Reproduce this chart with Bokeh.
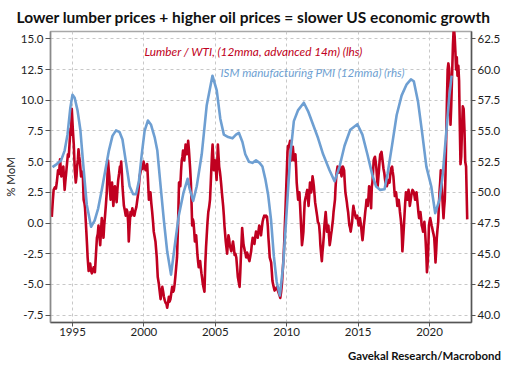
from bokeh.plotting import figure
from bokeh.models import (Range1d, LinearAxis, FixedTicker, PrintfTickFormatter, Label)
from bokeh.embed import file_html
from bokeh.resources import INLINE

# ---------------- data ----------------
red_year = [1993.55, 1993.62, 1993.68, 1993.76, 1993.84, 1993.9, 1993.99, 1994.06, 1994.13, 1994.22,
            1994.29, 1994.36, 1994.45, 1994.5, 1994.56, 1994.62, 1994.68, 1994.74, 1994.79, 1994.86,
            1994.9, 1994.95, 1995.02, 1995.09, 1995.16, 1995.23, 1995.28, 1995.32, 1995.38, 1995.42,
            1995.47, 1995.51, 1995.6, 1995.66, 1995.72, 1995.78, 1995.84, 1995.88, 1995.97, 1996.02,
            1996.06, 1996.13, 1996.18, 1996.24, 1996.3, 1996.36, 1996.42, 1996.48, 1996.57, 1996.64,
            1996.71, 1996.77, 1996.82, 1996.88, 1996.94, 1997.0, 1997.05, 1997.11, 1997.17, 1997.22,
            1997.28, 1997.34, 1997.4, 1997.45, 1997.49, 1997.54, 1997.58, 1997.63, 1997.67, 1997.72,
            1997.77, 1997.82, 1997.86, 1997.92, 1997.97, 1998.03, 1998.09, 1998.15, 1998.2, 1998.26,
            1998.32, 1998.37, 1998.41, 1998.46, 1998.5, 1998.55, 1998.6, 1998.67, 1998.73, 1998.79,
            1998.85, 1998.9, 1998.94, 1999.0, 1999.06, 1999.12, 1999.19, 1999.26, 1999.33, 1999.4,
            1999.47, 1999.54, 1999.61, 1999.66, 1999.7, 1999.77, 1999.84, 1999.91, 1999.98, 2000.05,
            2000.12, 2000.18, 2000.23, 2000.29, 2000.35, 2000.41, 2000.46, 2000.52, 2000.58, 2000.64,
            2000.69, 2000.75, 2000.81, 2000.86, 2000.9, 2000.97, 2001.04, 2001.1, 2001.17, 2001.23,
            2001.29, 2001.35, 2001.4, 2001.46, 2001.52, 2001.58, 2001.63, 2001.69, 2001.75, 2001.8,
            2001.86, 2001.92, 2001.98, 2002.04, 2002.09, 2002.15, 2002.2, 2002.26, 2002.32, 2002.39,
            2002.46, 2002.5, 2002.55, 2002.6, 2002.65, 2002.7, 2002.74, 2002.78, 2002.83, 2002.88,
            2002.92, 2002.97, 2003.01, 2003.06, 2003.1, 2003.15, 2003.2, 2003.24, 2003.29, 2003.34,
            2003.38, 2003.43, 2003.47, 2003.52, 2003.57, 2003.62, 2003.66, 2003.7, 2003.75, 2003.8,
            2003.84, 2003.89, 2003.94, 2003.98, 2004.03, 2004.08, 2004.12, 2004.17, 2004.24, 2004.3,
            2004.35, 2004.4, 2004.45, 2004.51, 2004.57, 2004.63, 2004.68, 2004.72, 2004.77, 2004.81,
            2004.86, 2004.9, 2004.95, 2004.99, 2005.04, 2005.09, 2005.14, 2005.18, 2005.23, 2005.27,
            2005.32, 2005.36, 2005.41, 2005.46, 2005.5, 2005.55, 2005.6, 2005.64, 2005.69, 2005.73,
            2005.78, 2005.83, 2005.88, 2005.92, 2005.97, 2006.01, 2006.06, 2006.12, 2006.18, 2006.24,
            2006.3, 2006.35, 2006.41, 2006.47, 2006.52, 2006.58, 2006.64, 2006.7, 2006.75, 2006.79,
            2006.84, 2006.88, 2006.93, 2006.98, 2007.02, 2007.07, 2007.12, 2007.16, 2007.22, 2007.28,
            2007.33, 2007.39, 2007.45, 2007.51, 2007.56, 2007.62, 2007.68, 2007.74, 2007.8, 2007.85,
            2007.91, 2007.97, 2008.03, 2008.08, 2008.14, 2008.2, 2008.26, 2008.31, 2008.37, 2008.43,
            2008.49, 2008.55, 2008.62, 2008.68, 2008.72, 2008.77, 2008.81, 2008.86, 2008.91, 2008.96,
            2009.0, 2009.05, 2009.09, 2009.15, 2009.21, 2009.27, 2009.32, 2009.38, 2009.44, 2009.5,
            2009.55, 2009.61, 2009.67, 2009.72, 2009.78, 2009.83, 2009.87, 2009.92, 2009.97, 2010.02,
            2010.06, 2010.1, 2010.15, 2010.2, 2010.24, 2010.29, 2010.34, 2010.38, 2010.43, 2010.48,
            2010.52, 2010.57, 2010.61, 2010.66, 2010.7, 2010.75, 2010.8, 2010.85, 2010.89, 2010.94,
            2010.98, 2011.03, 2011.07, 2011.12, 2011.17, 2011.21, 2011.26, 2011.31, 2011.35, 2011.4,
            2011.44, 2011.49, 2011.53, 2011.58, 2011.63, 2011.67, 2011.72, 2011.77, 2011.81, 2011.86,
            2011.9, 2011.95, 2011.99, 2012.04, 2012.09, 2012.14, 2012.18, 2012.23, 2012.27, 2012.32,
            2012.36, 2012.41, 2012.46, 2012.5, 2012.55, 2012.6, 2012.64, 2012.69, 2012.73, 2012.78,
            2012.82, 2012.87, 2012.92, 2012.96, 2013.01, 2013.06, 2013.1, 2013.15, 2013.19, 2013.24,
            2013.28, 2013.33, 2013.38, 2013.42, 2013.47, 2013.51, 2013.56, 2013.6, 2013.65, 2013.7,
            2013.75, 2013.79, 2013.84, 2013.88, 2013.93, 2013.97, 2014.02, 2014.06, 2014.11, 2014.16,
            2014.21, 2014.25, 2014.3, 2014.34, 2014.39, 2014.44, 2014.48, 2014.53, 2014.58, 2014.62,
            2014.67, 2014.71, 2014.76, 2014.8, 2014.85, 2014.9, 2014.94, 2014.99, 2015.04, 2015.08,
            2015.13, 2015.18, 2015.22, 2015.27, 2015.31, 2015.36, 2015.4, 2015.45, 2015.5, 2015.55,
            2015.59, 2015.64, 2015.68, 2015.73, 2015.77, 2015.82, 2015.87, 2015.91, 2015.96, 2016.0,
            2016.05, 2016.09, 2016.14, 2016.18, 2016.23, 2016.27, 2016.32, 2016.37, 2016.41, 2016.46,
            2016.5, 2016.55, 2016.6, 2016.64, 2016.69, 2016.74, 2016.78, 2016.83, 2016.88, 2016.92,
            2016.97, 2017.01, 2017.06, 2017.1, 2017.15, 2017.2, 2017.24, 2017.29, 2017.33, 2017.38,
            2017.42, 2017.47, 2017.52, 2017.57, 2017.61, 2017.66, 2017.7, 2017.75, 2017.8, 2017.84,
            2017.89, 2017.93, 2017.98, 2018.03, 2018.07, 2018.1, 2018.13, 2018.16, 2018.21, 2018.26,
            2018.3, 2018.35, 2018.4, 2018.44, 2018.49, 2018.53, 2018.58, 2018.62, 2018.67, 2018.72,
            2018.76, 2018.81, 2018.86, 2018.9, 2018.95, 2018.99, 2019.04, 2019.09, 2019.13, 2019.18,
            2019.22, 2019.27, 2019.31, 2019.36, 2019.41, 2019.45, 2019.5, 2019.55, 2019.6, 2019.64,
            2019.69, 2019.73, 2019.78, 2019.82, 2019.86, 2019.89, 2019.93, 2019.96, 2020.0, 2020.05,
            2020.1, 2020.15, 2020.19, 2020.24, 2020.28, 2020.33, 2020.38, 2020.42, 2020.47, 2020.51,
            2020.56, 2020.61, 2020.65, 2020.7, 2020.75, 2020.79, 2020.84, 2020.88, 2020.93, 2020.98,
            2021.02, 2021.07, 2021.12, 2021.17, 2021.22, 2021.27, 2021.32, 2021.37, 2021.42, 2021.47,
            2021.52, 2021.58, 2021.64, 2021.7, 2021.76, 2021.81, 2021.86, 2021.91, 2021.96, 2022.02,
            2022.07, 2022.12, 2022.17, 2022.22, 2022.27, 2022.33, 2022.39, 2022.45, 2022.5, 2022.56,
            2022.64]

red_value = [0.5, 1.8, 2.7, 2.9, 2.8, 3.3, 4.3, 4.0, 5.2, 3.8,
             4.1, 4.6, 2.7, 3.4, 4.1, 4.9, 5.6, 5.4, 6.4, 7.7,
             7.2, 9.3, 7.7, 6.4, 4.3, 3.3, 3.8, 4.6, 5.2, 6.0,
             5.4, 5.1, 3.8, 4.2, 4.1, 1.9, 1.6, 1.2, -0.7, -1.8,
             -2.8, -3.9, -3.6, -3.3, -3.9, -4.1, -3.9, -3.6, -4.0, -2.6,
             -1.2, -0.9, -0.2, -1.0, -1.8, -0.6, 0.4, -0.3, -1.2, -0.2,
             0.6, 1.5, 2.5, 3.9, 5.1, 4.3, 3.8, 2.5, 1.9, 2.6,
             3.3, 2.2, 1.4, 2.4, 3.0, 2.4, 1.7, 2.8, 3.5, 4.0,
             4.6, 4.3, 5.0, 4.0, 3.0, 2.2, 1.4, 1.0, 0.6, 1.1,
             0.9, 0.0, -1.5, -0.2, 0.9, 0.6, 1.2, 0.8, 0.6, 1.0,
             1.3, 1.9, 2.5, 3.2, 3.8, 4.2, 4.6, 4.4, 5.0, 4.6,
             4.3, 4.5, 4.8, 3.4, 1.9, 2.2, 2.5, 1.6, 0.9, 0.1,
             -0.7, -1.1, -1.5, -2.2, -2.8, -4.4, -4.9, -5.5, -6.2, -5.6,
             -5.2, -5.6, -6.0, -6.3, -6.5, -6.6, -6.9, -6.5, -6.0, -6.4,
             -6.2, -5.7, -5.2, -5.6, -5.5, -5.0, -4.4, -3.6, -2.8, -0.2,
             3.3, 3.0, 3.0, 4.2, 5.1, 5.4, 5.9, 5.3, 5.1, 5.8,
             6.4, 6.0, 5.6, 6.0, 6.7, 6.0, 5.1, 4.4, 3.3, 1.5,
             -0.2, 0.3, 0.1, -0.6, -1.5, -1.2, -1.0, -1.7, -2.6, -3.2,
             -3.6, -3.3, -3.1, -3.6, -4.1, -4.5, -4.9, -5.2, -5.6, -3.3,
             -2.0, -1.0, 0.0, 0.9, 1.3, 1.9, 3.2, 4.3, 5.6, 6.4,
             5.3, 4.3, 4.8, 5.1, 4.4, 3.5, 5.0, 6.4, 5.4, 4.6,
             4.2, 3.8, 3.2, 2.5, 2.0, 1.4, 0.6, -0.2, -0.9, -1.5,
             -2.0, -2.5, -1.6, -1.0, -1.3, -1.8, -2.0, -2.3, -1.9, -1.5,
             -2.0, -2.6, -2.5, -2.8, -3.5, -4.4, -4.8, -5.2, -4.0, -2.8,
             -1.5, -0.4, -1.1, -1.8, -2.0, -2.3, -2.5, -2.8, -2.4, -2.6,
             -2.9, -3.1, -2.7, -2.3, -1.7, -1.2, -1.5, -1.7, -1.1, -0.7,
             -0.9, -1.2, -0.6, -0.2, -0.5, -1.0, -0.4, 0.1, 0.4, 0.6,
             0.5, 0.6, 0.5, -0.3, -1.2, -2.0, -2.8, -3.0, -3.2, -4.0,
             -4.7, -5.0, -5.2, -5.5, -5.4, -5.3, -5.2, -5.5, -5.7, -5.9,
             -6.1, -5.6, -4.9, -3.9, -2.8, -1.5, -0.2, 1.3, 3.0, 4.6,
             5.9, 6.3, 6.2, 6.5, 6.7, 5.8, 5.1, 5.6, 6.2, 5.5,
             5.1, 5.3, 5.6, 4.5, 3.3, 2.6, 1.9, 2.2, 2.5, 1.4,
             0.4, -0.8, -1.8, -1.3, -0.7, 0.5, 1.7, 2.0, 2.2, 2.5,
             2.7, 2.0, 1.4, 2.3, 3.3, 2.9, 2.5, 3.2, 3.8, 3.4,
             3.0, 2.3, 1.7, 1.3, 0.9, 0.5, 0.1, 0.0, -0.2, -0.9,
             -1.8, -2.5, -3.1, -2.4, -1.8, -1.0, -0.2, 0.4, 0.9, 0.1,
             -0.7, -0.4, -0.2, -1.0, -1.8, -1.4, -1.0, -0.6, -0.2, 0.3,
             0.9, 1.4, 1.9, 2.9, 3.8, 4.2, 4.6, 4.3, 4.1, 4.3,
             4.6, 4.2, 3.8, 4.2, 4.6, 4.5, 4.3, 3.4, 2.5, 2.1,
             1.7, 1.3, 0.9, 0.4, -0.2, -0.4, -0.7, -0.3, 0.1, 0.8,
             1.4, 1.1, 0.9, 0.6, 0.4, 0.5, 0.6, 0.2, -0.2, 0.1,
             0.4, 0.0, -0.4, -1.0, -1.4, -0.8, -0.2, 0.3, 0.9, 1.4,
             1.9, 1.7, 1.4, 2.2, 3.0, 2.7, 2.2, 1.2, 3.0, 3.3,
             4.2, 5.1, 5.3, 5.4, 5.0, 4.6, 3.8, 3.0, 3.6, 4.3,
             5.0, 5.6, 5.7, 5.8, 5.3, 4.8, 4.4, 4.1, 3.6, 3.3,
             3.1, 3.0, 3.2, 3.5, 3.4, 3.3, 3.8, 4.3, 4.5, 4.6,
             4.2, 3.8, 3.0, 2.2, 2.3, 2.5, 2.0, 1.4, 1.7, 1.9,
             1.4, 0.9, 0.4, -0.2, -1.2, -2.3, -1.8, -1.2, -0.2, 0.9,
             1.7, 2.5, 2.2, 1.9, 2.3, 2.7, 2.1, 1.4, 1.8, 2.2,
             2.5, 2.7, 2.6, 2.5, 2.2, 1.9, 2.2, 2.5, 2.0, 1.4,
             0.9, 0.4, 0.6, 0.9, 0.4, -0.2, -0.4, -0.7, -0.3, 0.1,
             -0.7, -1.5, -2.7, -4.0, -3.4, -2.8, -1.5, -0.2, 0.1, 0.4,
             0.1, -0.2, -0.4, -0.7, -0.9, -1.2, -2.2, -3.2, -2.2, -1.2,
             -0.5, 0.1, 1.3, 2.5, 3.4, 4.3, 3.4, 2.5, 1.4, 0.4,
             1.2, 1.9, 4.0, 7.0, 10.0, 12.5, 13.0, 12.6, 11.5, 8.0,
             9.5, 12.0, 14.5, 16.0, 15.2, 14.0, 12.5, 13.5, 12.0, 12.8,
             11.6, 8.0, 4.8, 5.4, 7.5, 9.5, 9.3, 7.5, 5.0, 4.6,
             0.3]

ism_year = [1993.6, 1993.9, 1994.2, 1994.45, 1994.65, 1994.85, 1995.0, 1995.15, 1995.35, 1995.55,
            1995.75, 1996.0, 1996.3, 1996.55, 1996.8, 1997.05, 1997.3, 1997.55, 1997.8, 1998.05,
            1998.3, 1998.5, 1998.75, 1999.0, 1999.25, 1999.45, 1999.65, 1999.85, 2000.05, 2000.28,
            2000.5, 2000.75, 2000.94, 2001.17, 2001.4, 2001.63, 2001.9, 2002.2, 2002.44, 2002.78,
            2003.06, 2003.2, 2003.45, 2003.7, 2004.05, 2004.4, 2004.8, 2005.1, 2005.35, 2005.6,
            2005.9, 2006.2, 2006.45, 2006.65, 2006.9, 2007.1, 2007.35, 2007.6, 2007.85, 2008.1,
            2008.3, 2008.5, 2008.7, 2008.9, 2009.1, 2009.3, 2009.52, 2009.75, 2010.0, 2010.25,
            2010.5, 2010.8, 2011.2, 2011.5, 2011.85, 2012.2, 2012.55, 2013.0, 2013.35, 2013.7,
            2014.05, 2014.45, 2014.95, 2015.3, 2015.65, 2016.0, 2016.25, 2016.55, 2016.85, 2017.06,
            2017.36, 2017.7, 2018.05, 2018.4, 2018.7, 2018.9, 2019.2, 2019.5, 2019.78, 2020.12,
            2020.4, 2020.7, 2020.93, 2021.16, 2021.39, 2021.55]

ism_value = [52.05, 52.3, 52.6, 53.4, 54.7, 56.9, 57.95, 57.7, 56.7, 55.1,
             52.3, 49.0, 47.2, 47.7, 48.7, 50.2, 51.8, 53.4, 54.6, 55.05,
             54.9, 54.3, 52.4, 50.5, 49.85, 49.85, 50.9, 53.1, 55.0, 55.85,
             55.5, 54.5, 53.4, 50.5, 47.7, 45.2, 43.3, 46.0, 48.1, 50.0,
             51.1, 50.3, 49.3, 50.5, 53.1, 57.1, 59.5, 58.3, 56.0, 54.7,
             54.5, 54.4, 54.7, 54.85, 54.1, 53.1, 52.5, 52.4, 52.6, 52.4,
             52.1, 51.1, 49.8, 47.8, 44.8, 42.7, 41.6, 44.0, 48.5, 53.0,
             55.8, 56.7, 57.3, 56.6, 55.5, 54.4, 53.1, 51.8, 50.9, 52.1,
             53.8, 55.1, 55.55, 54.7, 53.1, 51.4, 50.5, 50.2, 50.25, 51.5,
             53.7, 56.3, 57.9, 58.8, 59.2, 59.05, 57.35, 54.7, 52.1, 50.5,
             48.3, 49.4, 51.5, 54.7, 57.9, 59.5]

x_ticks = [1995, 2000, 2005, 2010, 2015, 2020]
lhs_ticks = [-7.5, -5.0, -2.5, 0.0, 2.5, 5.0, 7.5, 10.0, 12.5, 15.0]
rhs_ticks = [40.0, 42.5, 45.0, 47.5, 50.0, 52.5, 55.0, 57.5, 60.0, 62.5]

title_text = "Lower lumber prices + higher oil prices = slower US economic growth"
red_label = "Lumber / WTI, (12mma, advanced 14m) (lhs)"
blue_label = "ISM manufacturing PMI (12mma) (rhs)"
source_text = "Gavekal Research/Macrobond"
y_label = "% MoM"

# ---------------- style ----------------
RED = "#C00020"
BLUE = "#6E9FD2"
GRID = "#C8C8C8"
TXT = "#1E1E1E"
FONT = "Lato"

X0, X1 = 1993.46, 2022.94
Y0, Y1 = -8.1, 15.6
SRC_X = 2019.65   # where the source note is centred (below the axis)

p = figure(width=503, height=364, output_backend="svg", toolbar_location=None,
           x_range=Range1d(X0, X1), y_range=Range1d(Y0, Y1),
           min_border_left=44, min_border_right=0, min_border_top=0, min_border_bottom=41)
p.extra_y_ranges = {"rhs": Range1d(Y0 + 47.5, Y1 + 47.5)}

p.title.text = title_text
p.title.text_font = FONT
p.title.text_font_style = "bold"
p.title.text_font_size = "15.5px"
p.title.text_color = "#111111"
p.title.align = "left"
p.title.offset = -34
p.title.standoff = 11

p.outline_line_color = "#A8A8A8"
p.outline_line_width = 1.5
p.background_fill_color = "white"
p.border_fill_color = "white"

# grid
p.xgrid.ticker = FixedTicker(ticks=x_ticks)
p.ygrid.ticker = FixedTicker(ticks=lhs_ticks)
for g in (p.xgrid, p.ygrid):
    g.grid_line_color = GRID
    g.grid_line_dash = "3 3"
    g.grid_line_width = 1

# x axis
xa = p.xaxis[0]
xa.ticker = FixedTicker(ticks=x_ticks)
xa.axis_line_color = "#555555"
xa.axis_line_width = 1.5
xa.major_tick_line_color = "#555555"
xa.major_tick_out = 4
xa.major_tick_in = 0
xa.minor_tick_out = 0
xa.minor_tick_line_color = None
xa.major_label_text_font = FONT
xa.major_label_text_font_size = "11.5px"
xa.major_label_text_color = TXT
xa.major_label_standoff = 1

# source note, as a bare second axis below the first one
sa = LinearAxis(ticker=FixedTicker(ticks=[SRC_X]),
                major_label_overrides={SRC_X: source_text})
sa.axis_line_color = None
sa.major_tick_line_color = None
sa.minor_tick_line_color = None
sa.major_tick_out = 0
sa.minor_tick_out = 0
sa.major_tick_in = 0
sa.major_label_standoff = 10
sa.major_label_text_font = FONT
sa.major_label_text_font_style = "bold"
sa.major_label_text_font_size = "11.4px"
sa.major_label_text_line_height = 0.5
sa.major_label_text_color = "#111111"
p.add_layout(sa, "below")

# left axis
ya = p.yaxis[0]
ya.ticker = FixedTicker(ticks=lhs_ticks)
ya.formatter = PrintfTickFormatter(format="%.1f")
ya.axis_line_color = "#8A8A8A"
ya.axis_line_width = 1.5
ya.major_tick_line_color = "#555555"
ya.major_tick_out = 5
ya.major_tick_in = 0
ya.minor_tick_out = 0
ya.minor_tick_line_color = None
ya.major_label_text_font = FONT
ya.major_label_text_font_size = "11.5px"
ya.major_label_text_color = TXT
ya.major_label_standoff = 2
ya.axis_label = y_label
ya.axis_label_text_font = FONT
ya.axis_label_text_font_size = "11.5px"
ya.axis_label_text_font_style = "normal"
ya.axis_label_text_color = TXT
ya.axis_label_standoff = 1

# right axis
ra = LinearAxis(y_range_name="rhs", ticker=FixedTicker(ticks=rhs_ticks),
                formatter=PrintfTickFormatter(format="%.1f"))
ra.axis_line_color = "#555555"
ra.axis_line_width = 1.5
ra.major_tick_line_color = "#555555"
ra.major_tick_out = 4
ra.major_tick_in = 0
ra.minor_tick_out = 0
ra.minor_tick_line_color = None
ra.major_label_text_font = FONT
ra.major_label_text_font_size = "11.5px"
ra.major_label_text_color = TXT
ra.major_label_standoff = 2
p.add_layout(ra, "right")

# lines
p.line(red_year, red_value, line_color=RED, line_width=2.6, line_join="round")
p.line(ism_year, ism_value, y_range_name="rhs", line_color=BLUE, line_width=2.6,
       line_join="round")

# annotations
p.add_layout(Label(x=2000.04, y=13.96, text=red_label, text_color=RED,
                   text_font=FONT, text_font_style="italic", text_font_size="11.8px",
                   text_baseline="middle", text_align="left"))
p.add_layout(Label(x=2005.36, y=12.3, text=blue_label, text_color=BLUE,
                   text_font=FONT, text_font_style="italic", text_font_size="11.6px",
                   text_baseline="middle", text_align="left"))

open("out.html", "w").write(file_html(p, INLINE))
